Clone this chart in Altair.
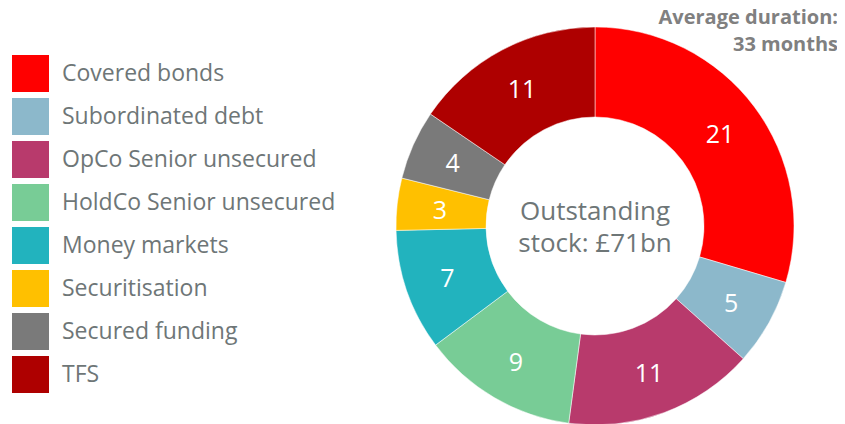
import altair as alt
import pandas as pd

categories = ["Covered bonds", "Subordinated debt", "OpCo Senior unsecured",
              "HoldCo Senior unsecured", "Money markets", "Securitisation",
              "Secured funding", "TFS"]
values = [21, 5, 11, 9, 7, 3, 4, 11]
colors = ["#FF0000", "#8CB8CB", "#B83A6C", "#78CC96", "#22B3BE", "#FFC000",
          "#7A7A7A", "#AE0000"]
center_text = ["Outstanding", "stock: £71bn"]
title_text = ["Average duration:", "33 months"]

df = pd.DataFrame({"cat": categories, "val": values, "idx": list(range(len(values)))})

FONT = "Open Sans"
CX, CY = 587, 218
R_OUT, R_IN = 199, 109

base = alt.Chart(df).encode(
    theta=alt.Theta("val:Q", stack=True),
    order=alt.Order("idx:Q", sort="ascending"),
)

arcs = base.mark_arc(outerRadius=R_OUT, innerRadius=R_IN, stroke="white", strokeWidth=0.5).encode(
    x=alt.value(CX), y=alt.value(CY),
    color=alt.Color(
        "cat:N",
        scale=alt.Scale(domain=categories, range=colors),
        sort=categories,
        legend=alt.Legend(
            title=None, orient="none", legendX=4, legendY=47,
            symbolType="square", symbolSize=1369, symbolStrokeWidth=0,
            symbolOpacity=1, labelFontSize=23, labelFont=FONT,
            labelColor="#6E7677", labelOffset=13, rowPadding=6,
            labelLimit=400,
        ),
    ),
)

labels = base.mark_text(radius=(R_OUT + R_IN) / 2 + 2, fontSize=25, font=FONT, color="white").encode(
    x=alt.value(CX), y=alt.value(CY + 2),
    text=alt.Text("val:Q"),
)


def text_line(s, y, **kw):
    return alt.Chart(pd.DataFrame({"t": [s]})).mark_text(font=FONT, **kw).encode(
        y=alt.value(y), text="t", x=alt.value(kw.pop("xx", 0)) if False else alt.value(kw_x[s])
    )


kw_x = {center_text[0]: CX, center_text[1]: CX, title_text[0]: 830, title_text[1]: 830}

c1 = text_line(center_text[0], CY - 14, fontSize=26, color="#6E7677", baseline="middle", align="center")
c2 = text_line(center_text[1], CY + 18, fontSize=26, color="#6E7677", baseline="middle", align="center")
t1 = text_line(title_text[0], 10, fontSize=20, fontWeight="bold", color="#808080", baseline="middle", align="right")
t2 = text_line(title_text[1], 37, fontSize=20, fontWeight="bold", color="#808080", baseline="middle", align="right")

chart = alt.layer(arcs, labels, c1, c2, t1, t2).properties(
    width=829, height=416, autosize=alt.AutoSizeParams(type="none"), padding=0
).configure_view(stroke=None)

chart.save("out.html", embed_options={"renderer": "svg", "actions": False})
